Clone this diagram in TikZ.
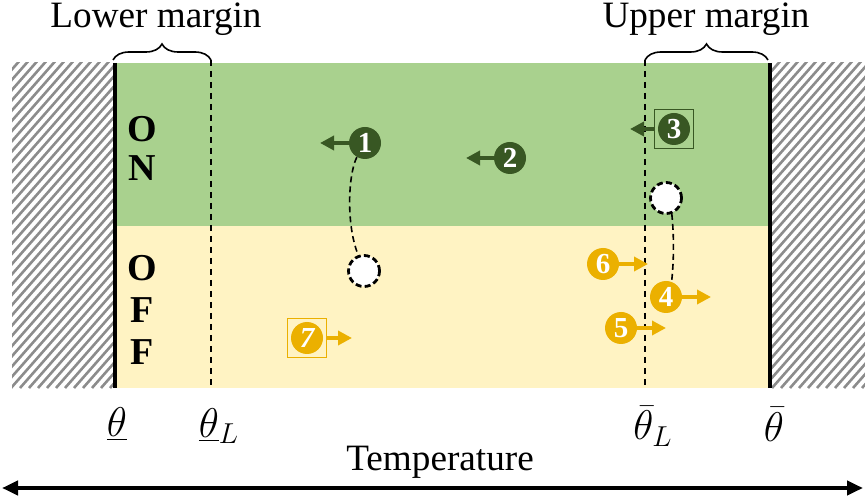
\documentclass[tikz,border=0pt]{standalone}
\usepackage{fontspec}
\setmainfont{Liberation Serif}
\usetikzlibrary{arrows.meta,positioning,fit,decorations.pathreplacing}

\definecolor{onfill}{HTML}{A9D18E}
\definecolor{offfill}{HTML}{FFF3C3}
\definecolor{dkgreen}{HTML}{385723}
\definecolor{gold}{HTML}{EBB000}
\definecolor{hatchgray}{HTML}{8C8C8C}

\begin{document}
\begin{tikzpicture}[
  x=0.5pt, y=-0.5pt,
  big/.style={font=\fontsize{18.6}{21}\selectfont},
  state/.style={font=\bfseries\fontsize{19}{21}\selectfont, align=center},
  thlabel/.style={font=\fontsize{21}{24}\selectfont},
  marker/.style={circle, fill=#1, text=white, minimum size=16pt, inner sep=0pt,
                 font=\bfseries\fontsize{14.5}{15}\selectfont},
  ghost/.style={circle, draw=black, fill=white, line width=1.4pt,
                dash pattern=on 3pt off 1.6pt, minimum size=15.5pt, inner sep=0pt},
  push/.style={-{Triangle[length=7pt,width=7pt]}, line width=2.4pt, draw=#1},
  tag/.style={draw=#1, line width=0.8pt, inner sep=1.5pt},
  limit/.style={line width=2pt},
  margin/.style={dash pattern=on 3pt off 2.5pt, line width=1.2pt},
  path/.style={dash pattern=on 3pt off 2pt, line width=0.8pt},
  brace/.style={decorate, decoration={brace, amplitude=8pt}, line width=0.8pt},
]
\useasboundingbox (0,0) rectangle (865,501);

% --- Regions ---
\fill[onfill] (113,63) rectangle (770,226);
\fill[offfill] (113,226) rectangle (770,388);
\begin{scope}
  \clip (12,63) rectangle (113,388);
  \foreach \i in {-340,-331,...,120}
    \draw[hatchgray, line width=1.3pt] (\i,388) -- ++(290,-330);
\end{scope}
\begin{scope}
  \clip (772,63) rectangle (865,388);
  \foreach \i in {430,439,...,880}
    \draw[hatchgray, line width=1.3pt] (\i,388) -- ++(290,-330);
\end{scope}

% --- Limits and margins ---
\coordinate (lowtop) at (114.5,63);
\coordinate (lowbot) at (114.5,388);
\coordinate (uptop) at (770,63);
\coordinate (upbot) at (770,388);
\coordinate (lmtop) at (211,60);
\coordinate (lmbot) at (211,388);
\coordinate (umtop) at (645,60);
\coordinate (umbot) at (645,388);
\draw[limit] (lowtop) -- (lowbot);
\draw[limit] (uptop) -- (upbot);
\draw[margin] (lmtop) -- (lmbot);
\draw[margin] (umtop) -- (umbot);

\draw[brace] (113,60) -- (lmtop);
\draw[brace] (umtop) -- (768,60);
\node[big] (lowm) at (156,19) {Lower margin};
\node[big] (upm) at (706,19) {Upper margin};

% --- State labels ---
\node[state] (on) at (142,148) {O\\[-1.5pt]N};
\node[state] (off) at (142,310) {O\\[0pt]F\\[0pt]F};

% --- Trajectories ---
\node[ghost] (g1) at (364,271) {};
\node[ghost] (g2) at (666,198) {};

% --- Markers ---
\node[marker=dkgreen] (m1) at (365,143) {1};
\node[marker=dkgreen] (m2) at (510,158) {2};
\node[marker=dkgreen] (m3) at (674,129) {3};
\node[marker=gold] (m4) at (666,297) {4};
\node[marker=gold] (m5) at (621,328) {5};
\node[marker=gold] (m6) at (603,264) {6};
\node[marker=gold] (m7) at (307,338) {\itshape 7};

\node[tag=dkgreen, fit=(m3)] (box3) {};
\node[tag=gold, fit=(m7)] (box7) {};

\coordinate (a1) at (320,143);
\coordinate (a2) at (466,158);
\coordinate (a3) at (630,129);
\coordinate (a4) at (711,297);
\coordinate (a5) at (666,328);
\coordinate (a6) at (648,264);
\coordinate (a7) at (352,338);

\draw[push=dkgreen] (m1.west) -- (a1);
\draw[push=dkgreen] (m2.west) -- (a2);
\draw[push=dkgreen] (box3.west) -- (a3);
\draw[push=gold] (m4.east) -- (a4);
\draw[push=gold] (m5.east) -- (a5);
\draw[push=gold] (m6.east) -- (a6);
\draw[push=gold] (box7.east) -- (a7);

\draw[path] (m1.240) .. controls (348,175) and (346,225) .. (g1.110);
\draw[path] (g2.290) .. controls (674,235) and (674,260) .. (m4.70);

% --- Axis ---
\node[thlabel] (th) at (117,424) {$\underline{\theta}$};
\node[thlabel] (thL) at (219,426) {$\underline{\theta}_L$};
\node[thlabel] (thbL) at (653,426) {$\bar{\theta}_L$};
\node[thlabel] (thb) at (774,424) {$\bar{\theta}$};
\node[big] (temp) at (440,462) {Temperature};

\coordinate (axl) at (2,488);
\coordinate (axr) at (863,488);
\draw[{Triangle[length=8pt,width=7pt]}-{Triangle[length=8pt,width=7pt]}, line width=2pt] (axl) -- (axr);
\end{tikzpicture}
\end{document}
